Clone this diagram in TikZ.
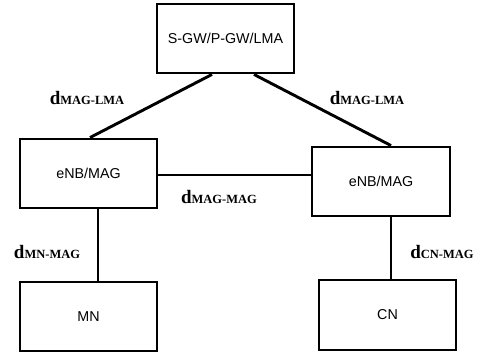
\documentclass[tikz,border=0pt]{standalone}
\usepackage{fontspec}
\setmainfont{Liberation Sans}
\newfontfamily\lblfont{Liberation Serif}
\begin{document}
\begin{tikzpicture}[x=1pt,y=1pt,
  box/.style={draw,line width=2.9pt,minimum width=137pt,minimum height=69pt,inner sep=0pt,font=\fontsize{14.3}{16}\selectfont},
  conn/.style={line width=2.9pt},
  dlbl/.style={inner sep=0pt,font=\lblfont\bfseries}]
\useasboundingbox (0,0) rectangle (489,354);
\node[box] (top) at (225.5,315.5) {S-GW/P-GW/LMA};
\node[box] (left) at (88.5,180.5) {eNB/MAG};
\node[box,minimum width=138pt] (right) at (381,172.5) {eNB/MAG};
\node[box] (mn) at (88.5,37.5) {MN};
\node[box,minimum height=70pt] (cn) at (387.5,39) {CN};
\draw[conn] ([xshift=-13.5pt]top.south) -- ([xshift=1.5pt]left.north);
\draw[conn] ([xshift=28.5pt]top.south) -- ([xshift=10pt]right.north);
\draw[conn] ([yshift=-1.5pt]left.east) -- ([yshift=-1.5pt]left.east -| right.west);
\draw[conn] ([xshift=9.5pt]left.south) -- ([xshift=9.5pt]left.south |- mn.north);
\draw[conn] ([xshift=10pt]right.south) -- ([xshift=10pt]right.south |- cn.north);
\node[dlbl] (l1) at (87,256) {\fontsize{19}{20}\selectfont d\fontsize{12.5}{14}\selectfont MAG-LMA};
\node[dlbl] (l2) at (367,256) {\fontsize{19}{20}\selectfont d\fontsize{12.5}{14}\selectfont MAG-LMA};
\node[dlbl] (l3) at (219,157) {\fontsize{19}{20}\selectfont d\fontsize{12.5}{14}\selectfont MAG-MAG};
\node[dlbl] (l4) at (47,102) {\fontsize{19}{20}\selectfont d\fontsize{12.5}{14}\selectfont MN-MAG};
\node[dlbl] (l5) at (442,102) {\fontsize{19}{20}\selectfont d\fontsize{12.5}{14}\selectfont CN-MAG};
\end{tikzpicture}
\end{document}
